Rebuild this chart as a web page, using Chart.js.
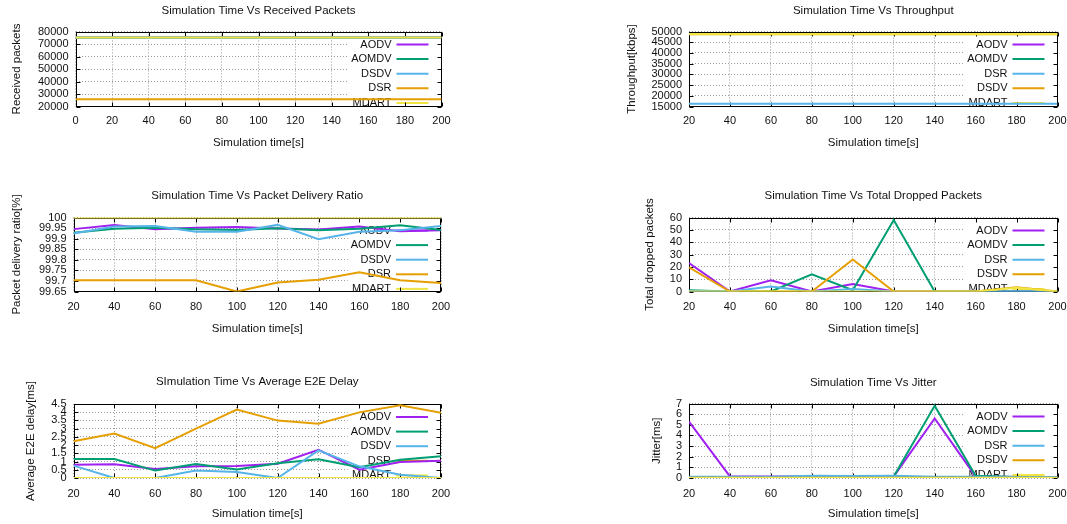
<!DOCTYPE html>
<html>
<head>
<meta charset="utf-8">
<script src="https://cdn.jsdelivr.net/npm/chart.js@4.4.0/dist/chart.umd.min.js"></script>
<style>
  html, body { margin: 0; padding: 0; background: #fff; }
  #wrap { position: relative; width: 1067px; height: 524px; overflow: hidden; }
  #wrap canvas { position: absolute; left: 0; top: 0; }
</style>
</head>
<body>
<div id="wrap">
  <canvas id="recv_chart" width="1067" height="524"></canvas>
  <canvas id="thr_chart" width="1067" height="524"></canvas>
  <canvas id="pdr_chart" width="1067" height="524"></canvas>
  <canvas id="drop_chart" width="1067" height="524"></canvas>
  <canvas id="delay_chart" width="1067" height="524"></canvas>
  <canvas id="jitter_chart" width="1067" height="524"></canvas>
</div>
<script>
// x values
const recvTimes = [0, 20, 40, 60, 80, 100, 120, 140, 160, 180, 200];
const simTimes = [20, 40, 60, 80, 100, 120, 140, 160, 180, 200];

// received packets
const recvAODV  = [75200, 75200, 75200, 75200, 75200, 75200, 75200, 75200, 75200, 75200, 75200];
const recvAOMDV = [75200, 75200, 75200, 75200, 75200, 75200, 75200, 75200, 75200, 75200, 75200];
const recvDSDV  = [75100, 75100, 75100, 75100, 75100, 75100, 75100, 75100, 75100, 75100, 75100];
const recvDSR   = [25800, 25800, 25800, 25800, 25800, 25800, 25800, 25800, 25800, 25800, 25800];
const recvMDART = [75250, 75250, 75250, 75250, 75250, 75250, 75250, 75250, 75250, 75250, 75250];

// throughput [kbps]
const thrAODV  = [48800, 48800, 48800, 48800, 48800, 48800, 48800, 48800, 48800, 48800];
const thrAOMDV = [48800, 48800, 48800, 48800, 48800, 48800, 48800, 48800, 48800, 48800];
const thrDSR   = [16300, 16300, 16300, 16300, 16300, 16300, 16300, 16300, 16300, 16300];
const thrDSDV  = [48700, 48700, 48700, 48700, 48700, 48700, 48700, 48700, 48700, 48700];
const thrMDART = [48850, 48850, 48850, 48850, 48850, 48850, 48850, 48850, 48850, 48850];

// packet delivery ratio [%]
const pdrAODV  = [99.945, 99.965, 99.945, 99.952, 99.955, 99.948, 99.943, 99.957, 99.935, 99.94];
const pdrAOMDV = [99.928, 99.947, 99.952, 99.944, 99.941, 99.949, 99.94, 99.947, 99.963, 99.941];
const pdrDSDV  = [99.924, 99.957, 99.96, 99.933, 99.933, 99.965, 99.897, 99.933, 99.94, 99.96];
const pdrDSR   = [99.703, 99.703, 99.703, 99.703, 99.65, 99.693, 99.706, 99.741, 99.703, 99.69];
const pdrMDART = [100, 100, 100, 100, 100, 100, 100, 100, 100, 100];

// total dropped packets
const dropAODV  = [23, 0, 9, 0, 6, 0, 0, 0, 0, 0];
const dropAOMDV = [1, 0, 0, 14, 1, 58, 0, 0, 0, 0];
const dropDSR   = [0.5, 0, 4, 0, 2, 0, 0, 0, 0, 0];
const dropDSDV  = [19.5, 0, 0, 0, 26, 0, 0, 0, 3.5, 0];
const dropMDART = [0, 0, 0, 0, 0, 0, 0, 0, 3, 0];

// average e2e delay [ms]
const delayAODV  = [0.81, 0.83, 0.55, 0.71, 0.73, 0.87, 1.72, 0.51, 0.97, 1.05];
const delayAOMDV = [1.16, 1.16, 0.45, 0.85, 0.51, 0.89, 1.14, 0.65, 1.11, 1.32];
const delayDSDV  = [0.75, 0, 0, 0.45, 0.36, 0, 1.68, 0.71, 0.2, 0];
const delayDSR   = [2.23, 2.7, 1.82, 3.0, 4.16, 3.49, 3.3, 3.99, 4.42, 3.97];
const delayMDART = [0, 0, 0, 0, 0, 0, 0, 0, 0, 0];

// jitter [ms]
const jitAODV  = [5.3, 0.15, 0.15, 0.15, 0.15, 0.15, 5.6, 0.15, 0.1, 0.1];
const jitAOMDV = [0.1, 0.1, 0.1, 0.1, 0.1, 0.15, 6.8, 0.2, 0.1, 0.1];
const jitDSR   = [0.12, 0.12, 0.12, 0.2, 0.18, 0.2, 0.12, 0.12, 0.1, 0.1];
const jitDSDV  = [0.02, 0.02, 0.02, 0.02, 0.02, 0.02, 0.02, 0.02, 0.02, 0.02];
const jitMDART = [0, 0, 0, 0, 0, 0, 0, 0, 0, 0];

const lineColors = ['#a020f0', '#009e73', '#56b4e9', '#e69f00', '#f0e442'];
const FONT = '"Liberation Sans", Arial, sans-serif';
const TEXT = '#111';

Chart.defaults.font.family = FONT;
Chart.defaults.color = TEXT;

// gnuplot-ish key + border with inward ticks
const gnuplotFrame = {
  id: 'gnuplotFrame',
  beforeDatasetsDraw(chart) {
    const ctx = chart.ctx;
    const a = chart.chartArea;
    const sets = chart.data.datasets;
    ctx.save();
    ctx.font = '11px ' + FONT;
    const textW = Math.max(...sets.map(d => ctx.measureText(d.label).width));
    const lineEnd = a.right - 13;
    const lineStart = lineEnd - 32;
    const textEnd = lineStart - 5;
    const boxLeft = textEnd - textW - 3;
    ctx.fillStyle = '#fff';
    ctx.fillRect(boxLeft, a.top + 1, a.right - 1 - boxLeft, a.bottom - a.top - 2);
    ctx.textAlign = 'right';
    ctx.textBaseline = 'middle';
    sets.forEach((d, i) => {
      const y = a.top + 13 + i * 14.6;
      ctx.fillStyle = TEXT;
      ctx.fillText(d.label, textEnd, y);
      ctx.strokeStyle = d.borderColor;
      ctx.lineWidth = 2;
      ctx.beginPath();
      ctx.moveTo(lineStart, y);
      ctx.lineTo(lineEnd, y);
      ctx.stroke();
    });

    const L = Math.round(a.left) + 0.5, R = Math.round(a.right) - 0.5;
    const T = Math.round(a.top) + 0.5, B = Math.round(a.bottom) - 0.5;
    ctx.strokeStyle = '#000';
    ctx.lineWidth = 1;
    ctx.strokeRect(L, T, R - L, B - T);
    const tk = 4;
    ctx.beginPath();
    chart.scales.x.ticks.forEach(t => {
      const px = Math.round(chart.scales.x.getPixelForValue(t.value)) + 0.5;
      ctx.moveTo(px, B); ctx.lineTo(px, B - tk);
      ctx.moveTo(px, T); ctx.lineTo(px, T + tk);
    });
    chart.scales.y.ticks.forEach(t => {
      const py = Math.round(chart.scales.y.getPixelForValue(t.value)) + 0.5;
      ctx.moveTo(L, py); ctx.lineTo(L + tk, py);
      ctx.moveTo(R, py); ctx.lineTo(R - tk, py);
    });
    ctx.stroke();
    ctx.restore();
  }
};

const fmt = v => String(Math.round(v * 1000) / 1000);

function makeChart(id, c) {
  const lh = 11.5 * 1.2;
  const padLeft = c.yTitleX - 10;
  const xH = 45;
  return new Chart(document.getElementById(id).getContext('2d'), {
    type: 'line',
    data: {
      datasets: c.series.map((s, i) => ({
        label: s.label,
        data: c.xs.map((x, j) => ({ x: x, y: s.data[j] })),
        borderColor: lineColors[i],
        backgroundColor: lineColors[i],
        borderWidth: 2,
        pointRadius: 0,
        tension: 0,
        fill: false,
        order: c.series.length - i   // later series drawn on top, like gnuplot
      }))
    },
    options: {
      responsive: false,
      animation: false,
      events: [],
      layout: {
        autoPadding: false,
        padding: { left: padLeft, right: 1067 - c.right, top: 0, bottom: 524 - c.bottom - xH }
      },
      plugins: {
        legend: { display: false },
        tooltip: { enabled: false },
        title: {
          display: true,
          text: c.title,
          fullSize: false,
          color: TEXT,
          font: { family: FONT, size: 11.5, weight: 'normal', lineHeight: 1.2 },
          padding: { top: c.titleY - lh / 2, bottom: c.top - c.titleY - lh / 2 }
        }
      },
      scales: {
        x: {
          type: 'linear',
          min: c.xs[0],
          max: 200,
          ticks: { stepSize: 20, autoSkip: false, maxRotation: 0, padding: 0,
                   font: { size: 11, lineHeight: (2 * (c.xTickY - c.bottom)) + 'px' },
                   color: TEXT, callback: fmt },
          grid: { color: '#9a9a9a', lineWidth: 1, drawTicks: false },
          border: { display: false, dash: [1, 2] },
          title: { display: true, text: 'Simulation time[s]', color: TEXT,
                   font: { size: 11.5, lineHeight: 1.2 },
                   padding: { top: 0, bottom: c.bottom + xH - c.xTitleY - lh / 2 } },
          afterFit: s => { s.height = xH; }
        },
        y: {
          min: c.yMin,
          max: c.yMax,
          ticks: { stepSize: c.yStep, autoSkip: false, padding: 7,
                   font: { size: 11 }, color: TEXT, callback: fmt },
          grid: { color: '#9a9a9a', lineWidth: 1, drawTicks: false },
          border: { display: false, dash: [1, 2] },
          title: { display: true, text: c.yTitle, color: TEXT,
                   font: { size: 11.5, lineHeight: 1.2 },
                   padding: { top: 10 - lh / 2, bottom: 0 } },
          afterFit: s => { s.width = c.left - padLeft; }
        }
      }
    },
    plugins: [gnuplotFrame]
  });
}

const recvChart = makeChart('recv_chart', {
  title: 'Simulation Time Vs Received Packets', yTitle: 'Received packets',
  xs: recvTimes, yMin: 20000, yMax: 80000, yStep: 10000,
  left: 75.5, right: 441.5, top: 31.5, bottom: 106.5,
  titleY: 11, yTitleX: 17, xTickY: 121, xTitleY: 143,
  series: [
    { label: 'AODV', data: recvAODV }, { label: 'AOMDV', data: recvAOMDV },
    { label: 'DSDV', data: recvDSDV }, { label: 'DSR', data: recvDSR },
    { label: 'MDART', data: recvMDART }
  ]
});

const thrChart = makeChart('thr_chart', {
  title: 'Simulation Time Vs Throughput', yTitle: 'Throughput[kbps]',
  xs: simTimes, yMin: 15000, yMax: 50000, yStep: 5000,
  left: 689, right: 1057.5, top: 31.5, bottom: 106.5,
  titleY: 11, yTitleX: 632, xTickY: 121, xTitleY: 143,
  series: [
    { label: 'AODV', data: thrAODV }, { label: 'AOMDV', data: thrAOMDV },
    { label: 'DSR', data: thrDSR }, { label: 'DSDV', data: thrDSDV },
    { label: 'MDART', data: thrMDART }
  ]
});

const pdrChart = makeChart('pdr_chart', {
  title: 'Simulation Time Vs Packet Delivery Ratio', yTitle: 'Packet delivery ratio[%]',
  xs: simTimes, yMin: 99.65, yMax: 100, yStep: 0.05,
  left: 73.5, right: 441, top: 217.5, bottom: 291.5,
  titleY: 196, yTitleX: 17, xTickY: 307, xTitleY: 329,
  series: [
    { label: 'AODV', data: pdrAODV }, { label: 'AOMDV', data: pdrAOMDV },
    { label: 'DSDV', data: pdrDSDV }, { label: 'DSR', data: pdrDSR },
    { label: 'MDART', data: pdrMDART }
  ]
});

const dropChart = makeChart('drop_chart', {
  title: 'Simulation Time Vs Total Dropped Packets', yTitle: 'Total dropped packets',
  xs: simTimes, yMin: 0, yMax: 60, yStep: 10,
  left: 689, right: 1057.5, top: 217.5, bottom: 291.5,
  titleY: 196, yTitleX: 650, xTickY: 307, xTitleY: 329,
  series: [
    { label: 'AODV', data: dropAODV }, { label: 'AOMDV', data: dropAOMDV },
    { label: 'DSR', data: dropDSR }, { label: 'DSDV', data: dropDSDV },
    { label: 'MDART', data: dropMDART }
  ]
});

const delayChart = makeChart('delay_chart', {
  title: 'SImulation Time Vs Average E2E Delay', yTitle: 'Average E2E delay[ms]',
  xs: simTimes, yMin: 0, yMax: 4.5, yStep: 0.5,
  left: 73.5, right: 441, top: 404, bottom: 478,
  titleY: 382, yTitleX: 31, xTickY: 494, xTitleY: 514,
  series: [
    { label: 'AODV', data: delayAODV }, { label: 'AOMDV', data: delayAOMDV },
    { label: 'DSDV', data: delayDSDV }, { label: 'DSR', data: delayDSR },
    { label: 'MDART', data: delayMDART }
  ]
});

const jitterChart = makeChart('jitter_chart', {
  title: 'Simulation Time Vs Jitter', yTitle: 'Jitter[ms]',
  xs: simTimes, yMin: 0, yMax: 7, yStep: 1,
  left: 689, right: 1057.5, top: 403.5, bottom: 478,
  titleY: 382.5, yTitleX: 657, xTickY: 494, xTitleY: 514,
  series: [
    { label: 'AODV', data: jitAODV }, { label: 'AOMDV', data: jitAOMDV },
    { label: 'DSR', data: jitDSR }, { label: 'DSDV', data: jitDSDV },
    { label: 'MDART', data: jitMDART }
  ]
});
</script>
</body>
</html>
